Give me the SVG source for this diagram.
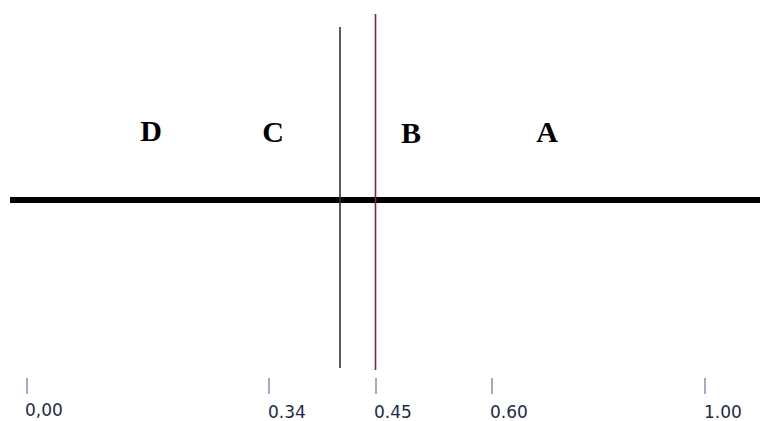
<svg xmlns="http://www.w3.org/2000/svg" width="760" height="421" viewBox="0 0 760 421">
<style>
.lbl{font-family:"Liberation Serif","Times New Roman",serif;font-weight:bold;font-size:30px;fill:#000;text-anchor:middle}
.tick{stroke:#8a8ab8;stroke-width:1.5}
.num{font-family:"DejaVu Sans",Verdana,sans-serif;font-size:17px;fill:#1e2a4a}
</style>
<rect width="760" height="421" fill="#fff"/>
<g id="axis">
<line x1="10" y1="200" x2="760" y2="200" stroke="#000" stroke-width="6"/>
</g>
<g id="connectors">
<line x1="340" y1="27" x2="340" y2="368" stroke="#333" stroke-width="1.6"/>
<line x1="375.5" y1="14" x2="375.5" y2="370" stroke="#7a2a48" stroke-width="1.6"/>
</g>
<g id="region-D"><text class="lbl" x="151" y="141">D</text></g>
<g id="region-C"><text class="lbl" x="273" y="142">C</text></g>
<g id="region-B"><text class="lbl" x="411" y="143">B</text></g>
<g id="region-A"><text class="lbl" x="547" y="142">A</text></g>
<g id="tick-000"><line class="tick" x1="27" y1="378" x2="27" y2="394"/><text class="num" x="25" y="416">0,00</text></g>
<g id="tick-034"><line class="tick" x1="269" y1="378" x2="269" y2="394"/><text class="num" x="268" y="418">0.34</text></g>
<g id="tick-045"><line class="tick" x1="376" y1="378" x2="376" y2="394"/><text class="num" x="374" y="418">0.45</text></g>
<g id="tick-060"><line class="tick" x1="492" y1="378" x2="492" y2="394"/><text class="num" x="490" y="418">0.60</text></g>
<g id="tick-100"><line class="tick" x1="705" y1="378" x2="705" y2="394"/><text class="num" x="704" y="418">1.00</text></g>
</svg>
